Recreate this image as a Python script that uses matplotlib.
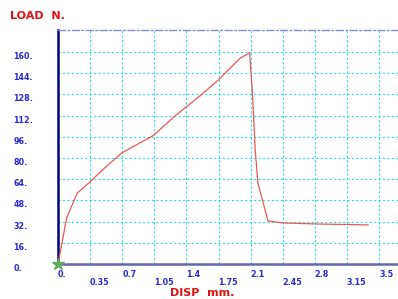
import matplotlib.pyplot as plt
import numpy as np

# load / displacement curve
disp = [0.0, 0.095, 0.21, 0.35, 0.5, 0.7, 1.04, 1.28, 1.55, 1.75, 1.85, 1.98, 2.09,
        2.10, 2.12, 2.15, 2.18, 2.29, 2.45, 2.82, 3.38]
load = [0.0, 35.0, 53.5, 62.0, 72.0, 84.0, 97.0, 112.0, 127.0, 139.0, 146.0, 155.0, 159.5,
        148.0, 129.0, 86.0, 61.0, 32.5, 31.0, 30.2, 29.5]

x_ticks = [0.0, 0.35, 0.7, 1.05, 1.4, 1.75, 2.1, 2.45, 2.8, 3.15, 3.5]
x_labels = ["0.", "0.35", "0.7", "1.05", "1.4", "1.75", "2.1", "2.45", "2.8", "3.15", "3.5"]
y_ticks = [0, 16, 32, 48, 64, 80, 96, 112, 128, 144, 160]
y_labels = ["0.", "16.", "32.", "48.", "64.", "80.", "96.", "112.", "128.", "144.", "160."]

plt.rcParams['font.family'] = ['DejaVu Sans']

fig = plt.figure(figsize=(3.98, 2.99), dpi=100)
ax = fig.add_axes([58 / 398, 35 / 299, 340 / 398, 234 / 299])

ax.set_xlim(0, 3.707)
ax.set_ylim(0, 176.6)

ax.grid(True, color="#33dddd", linestyle=(0, (2, 2)), linewidth=0.8)

ax.plot(disp, load, color="#ee5555", linewidth=0.9, zorder=3)
ax.plot([0], [0], marker="*", color="#66aa66", markersize=9, clip_on=False, zorder=4)

# spines
ax.spines["right"].set_visible(False)
ax.spines["left"].set_color("#000080")
ax.spines["left"].set_linewidth(1.8)
ax.spines["bottom"].set_color("#6666aa")
ax.spines["bottom"].set_linewidth(1.8)
ax.spines["top"].set_color("#8888dd")
ax.spines["top"].set_linewidth(1.0)
ax.spines["top"].set_linestyle((0, (5, 2, 1, 2)))

ax.set_xticks(x_ticks)
ax.set_xticklabels(x_labels)
ax.set_yticks(y_ticks)
ax.set_yticklabels(y_labels)
ax.tick_params(length=0, labelsize=5.8, labelcolor="#2a2ad0")
ax.tick_params(axis="y", pad=32)
ax.tick_params(axis="x", pad=4)

for lab in ax.get_xticklabels():
    lab.set_ha("left")
    lab.set_fontweight("bold")
for lab in ax.get_yticklabels():
    lab.set_ha("left")
    lab.set_va("top")
    lab.set_fontweight("bold")
for tick in ax.xaxis.get_major_ticks()[1::2]:
    tick.set_pad(10)

fig.text(10 / 398, 1 - 16 / 299, "LOAD  N.", color="#dd1111", fontsize=8,
         fontweight="bold", va="center", ha="left")
fig.text(170 / 398, 1 - 293 / 299, "DISP  mm.", color="#dd1111", fontsize=8,
         fontweight="bold", va="center", ha="left")

fig.savefig("out.png", dpi=100)
